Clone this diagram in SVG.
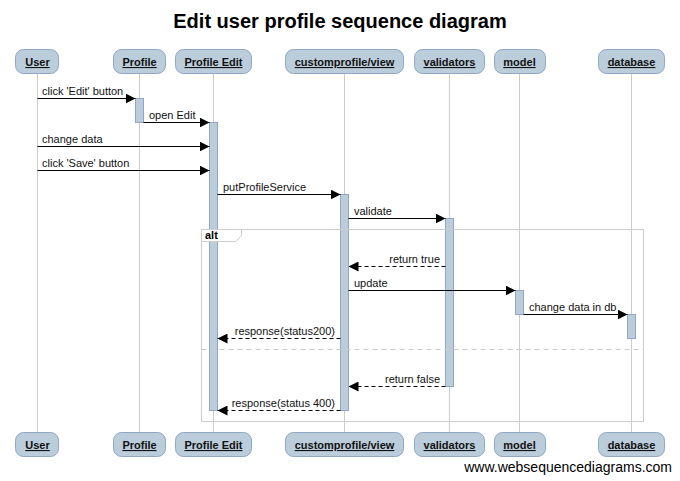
<svg xmlns="http://www.w3.org/2000/svg" width="680" height="481" viewBox="0 0 680 481">
<style>
.pbox{fill:#bbcddb;stroke:#8fa6c6;stroke-width:1}
.plbl{font-family:"Liberation Sans",Arial,sans-serif;font-size:11px;font-weight:bold;text-decoration:underline;fill:#111;text-anchor:middle}
.life{stroke:#cccccc;stroke-width:1}
.act{fill:#bbcddb;stroke:#8fa6c6;stroke-width:1}
.msg{stroke:#000;stroke-width:1;fill:none}
.dash{stroke-dasharray:4,3}
.mtxt{font-family:"Liberation Sans",Arial,sans-serif;font-size:11px;fill:#111}
.frame{fill:none;stroke:#cccccc;stroke-width:1}
</style>
<defs>
<marker id="ah" markerWidth="10" markerHeight="10" refX="10" refY="5" orient="auto" markerUnits="userSpaceOnUse">
<path d="M0,0 L10,5 L0,10 z" fill="#000"/>
</marker>
</defs>
<rect width="680" height="481" fill="#fff"/>
<text x="340" y="28" text-anchor="middle" font-family="Liberation Sans,Arial,sans-serif" font-size="20" font-weight="bold" fill="#000">Edit user profile sequence diagram</text>

<g id="lifelines">
<line class="life" x1="37.5" y1="74" x2="37.5" y2="432"/>
<line class="life" x1="139.5" y1="74" x2="139.5" y2="432"/>
<line class="life" x1="213.5" y1="74" x2="213.5" y2="432"/>
<line class="life" x1="344.5" y1="74" x2="344.5" y2="432"/>
<line class="life" x1="449.5" y1="74" x2="449.5" y2="432"/>
<line class="life" x1="519.5" y1="74" x2="519.5" y2="432"/>
<line class="life" x1="631.5" y1="74" x2="631.5" y2="432"/>
</g>

<g id="activations">
<rect class="act" x="135.5" y="98.5" width="8" height="24"/>
<rect class="act" x="209.5" y="122.5" width="8" height="288"/>
<rect class="act" x="340.5" y="194.5" width="8" height="216"/>
<rect class="act" x="445.5" y="218.5" width="8" height="168"/>
<rect class="act" x="515.5" y="290.5" width="8" height="24"/>
<rect class="act" x="627.5" y="314.5" width="8" height="24"/>
</g>

<g id="alt-frame">
<rect class="frame" x="201.5" y="229.5" width="442" height="192"/>
<path d="M201.5,229.5 H241.5 V235.5 L235.5,241.5 H201.5 Z" fill="#fff" stroke="#cccccc" stroke-width="1"/>
<text x="205" y="239" font-family="Liberation Sans,Arial,sans-serif" font-size="11" font-weight="bold" fill="#000">alt</text>
<line x1="201.5" y1="349.5" x2="643.5" y2="349.5" stroke="#cccccc" stroke-dasharray="5,4"/>
</g>

<g id="connectors">
<line class="msg" x1="37.5" y1="98.5" x2="135.5" y2="98.5" marker-end="url(#ah)"/>
<text class="mtxt" x="42" y="95">click 'Edit' button</text>
<line class="msg" x1="143.5" y1="122.5" x2="209.5" y2="122.5" marker-end="url(#ah)"/>
<text class="mtxt" x="149" y="119">open Edit</text>
<line class="msg" x1="37.5" y1="146.5" x2="209.5" y2="146.5" marker-end="url(#ah)"/>
<text class="mtxt" x="42" y="143">change data</text>
<line class="msg" x1="37.5" y1="170.5" x2="209.5" y2="170.5" marker-end="url(#ah)"/>
<text class="mtxt" x="42" y="167">click 'Save' button</text>
<line class="msg" x1="217.5" y1="194.5" x2="340.5" y2="194.5" marker-end="url(#ah)"/>
<text class="mtxt" x="223" y="191">putProfileService</text>
<line class="msg" x1="348.5" y1="218.5" x2="445.5" y2="218.5" marker-end="url(#ah)"/>
<text class="mtxt" x="354" y="215">validate</text>
<line class="msg dash" x1="445.5" y1="266.5" x2="348.5" y2="266.5" marker-end="url(#ah)"/>
<text class="mtxt" x="440" y="263" text-anchor="end">return true</text>
<line class="msg" x1="348.5" y1="290.5" x2="515.5" y2="290.5" marker-end="url(#ah)"/>
<text class="mtxt" x="354" y="287">update</text>
<line class="msg" x1="523.5" y1="314.5" x2="627.5" y2="314.5" marker-end="url(#ah)"/>
<text class="mtxt" x="529" y="311">change data in db</text>
<line class="msg dash" x1="340.5" y1="338.5" x2="217.5" y2="338.5" marker-end="url(#ah)"/>
<text class="mtxt" x="335" y="335" text-anchor="end">response(status200)</text>
<line class="msg dash" x1="445.5" y1="386.5" x2="348.5" y2="386.5" marker-end="url(#ah)"/>
<text class="mtxt" x="440" y="383" text-anchor="end">return false</text>
<line class="msg dash" x1="340.5" y1="410.5" x2="217.5" y2="410.5" marker-end="url(#ah)"/>
<text class="mtxt" x="335" y="407" text-anchor="end">response(status 400)</text>
</g>

<g id="p-user"><rect class="pbox" x="15.5" y="49.5" width="43" height="24" rx="8"/><text class="plbl" x="37.5" y="66">User</text>
<rect class="pbox" x="15.5" y="432.5" width="43" height="24" rx="8"/><text class="plbl" x="37.5" y="449">User</text></g>
<g id="p-profile"><rect class="pbox" x="113.5" y="49.5" width="52" height="24" rx="8"/><text class="plbl" x="139.5" y="66">Profile</text>
<rect class="pbox" x="113.5" y="432.5" width="52" height="24" rx="8"/><text class="plbl" x="139.5" y="449">Profile</text></g>
<g id="p-profileedit"><rect class="pbox" x="175.5" y="49.5" width="76" height="24" rx="8"/><text class="plbl" x="213.5" y="66">Profile Edit</text>
<rect class="pbox" x="175.5" y="432.5" width="76" height="24" rx="8"/><text class="plbl" x="213.5" y="449">Profile Edit</text></g>
<g id="p-customprofile"><rect class="pbox" x="285.5" y="49.5" width="118" height="24" rx="8"/><text class="plbl" x="344.5" y="66">customprofile/view</text>
<rect class="pbox" x="285.5" y="432.5" width="118" height="24" rx="8"/><text class="plbl" x="344.5" y="449">customprofile/view</text></g>
<g id="p-validators"><rect class="pbox" x="414.5" y="49.5" width="70" height="24" rx="8"/><text class="plbl" x="449.5" y="66">validators</text>
<rect class="pbox" x="414.5" y="432.5" width="70" height="24" rx="8"/><text class="plbl" x="449.5" y="449">validators</text></g>
<g id="p-model"><rect class="pbox" x="494.5" y="49.5" width="51" height="24" rx="8"/><text class="plbl" x="519.5" y="66">model</text>
<rect class="pbox" x="494.5" y="432.5" width="51" height="24" rx="8"/><text class="plbl" x="519.5" y="449">model</text></g>
<g id="p-database"><rect class="pbox" x="598.5" y="49.5" width="66" height="24" rx="8"/><text class="plbl" x="631.5" y="66">database</text>
<rect class="pbox" x="598.5" y="432.5" width="66" height="24" rx="8"/><text class="plbl" x="631.5" y="449">database</text></g>

<text x="672" y="472" text-anchor="end" font-family="Liberation Sans,Arial,sans-serif" font-size="14" fill="#000">www.websequencediagrams.com</text>
</svg>
